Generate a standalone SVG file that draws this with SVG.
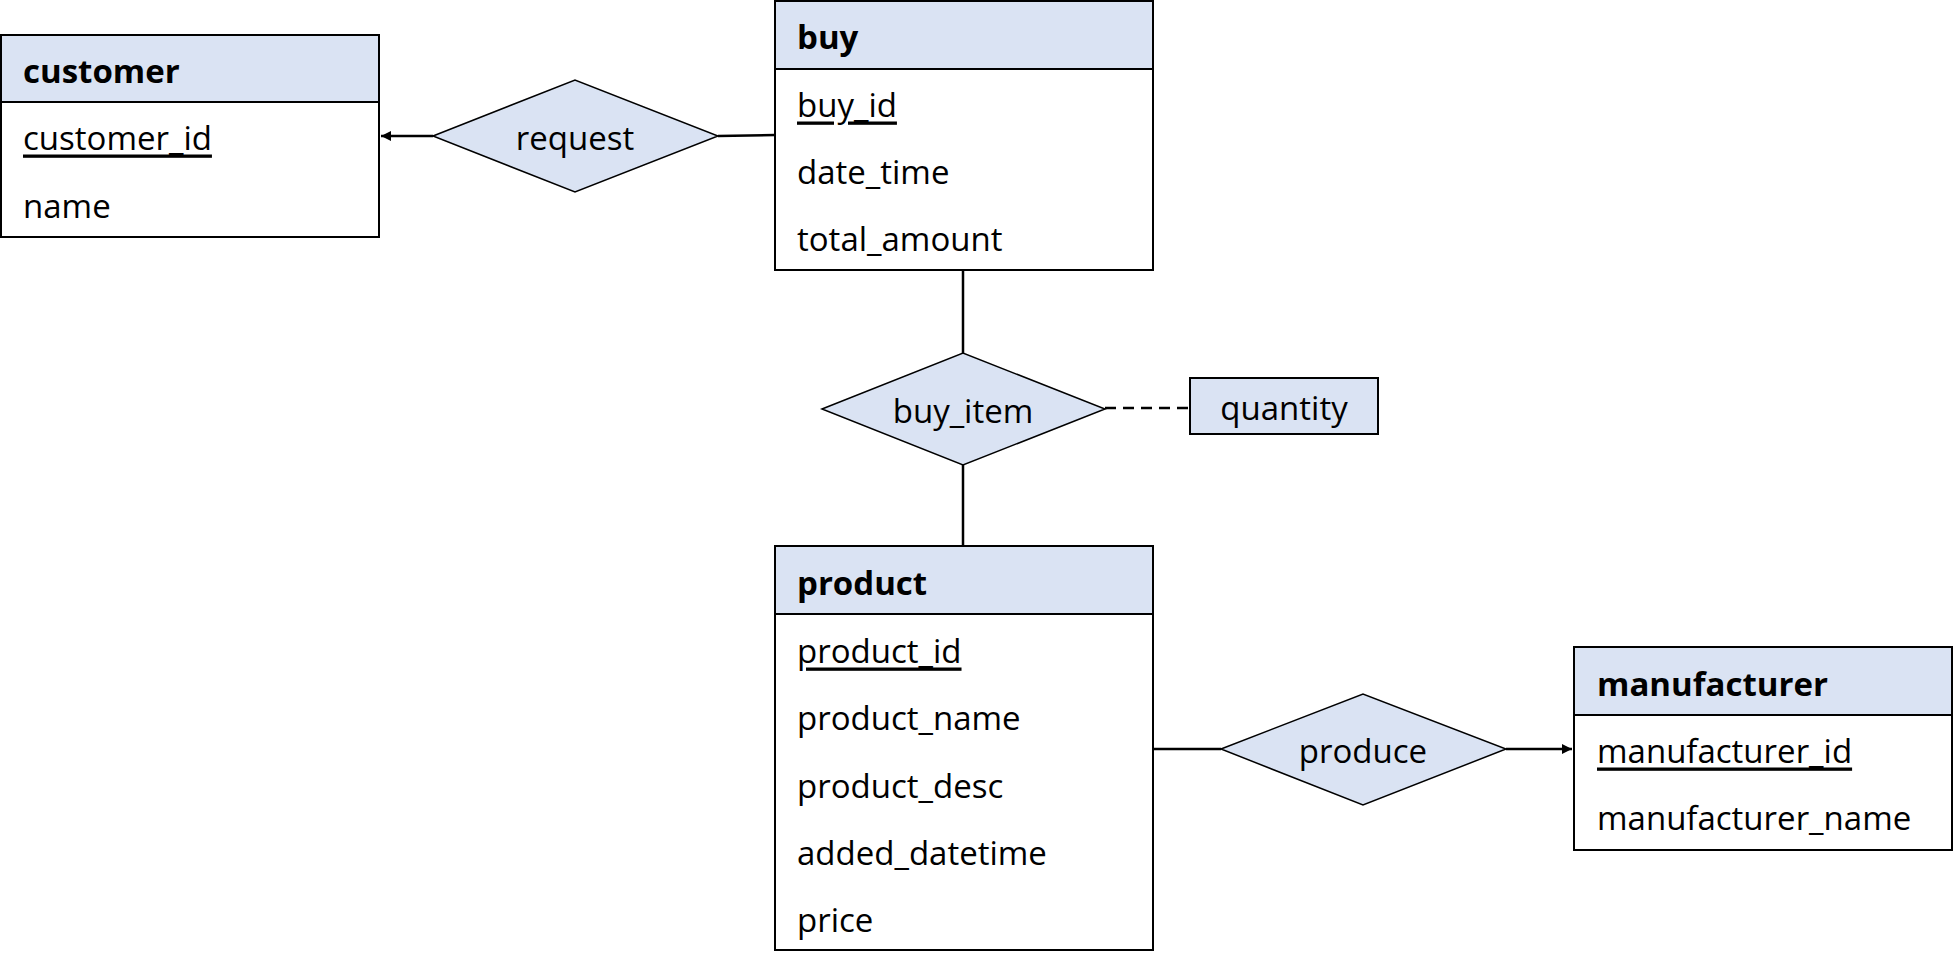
<svg xmlns="http://www.w3.org/2000/svg" width="1956" height="961" viewBox="0 0 1956 961">
<style>
.box{fill:#fff;stroke:#000;stroke-width:2}
.hdr{fill:#DAE3F3;stroke:#000;stroke-width:2}
.rel{fill:#DAE3F3;stroke:#000;stroke-width:1.5}
.t{font-family:"Open Sans","Noto Sans",sans-serif;font-size:33px;fill:#000;dominant-baseline:central}
.b{font-weight:bold}
.u{text-decoration:underline}
.c{text-anchor:middle}
.ln{stroke:#000;stroke-width:2.5;fill:none}
.dash{stroke:#000;stroke-width:2.5;stroke-dasharray:11,7;fill:none}
</style>
<defs>
<marker id="arr" viewBox="0 0 10 10" refX="10" refY="5" markerWidth="4" markerHeight="4" orient="auto" markerUnits="strokeWidth">
<path d="M0,0 L10,5 L0,10 z" fill="#000"/>
</marker>
</defs>
<rect width="1956" height="961" fill="#fff"/>
<g id="connectors">
<line class="ln" x1="433" y1="136" x2="381" y2="136" marker-end="url(#arr)"/>
<line class="ln" x1="718" y1="136" x2="775" y2="135"/>
<line class="ln" x1="963" y1="270" x2="963" y2="353"/>
<line class="ln" x1="963" y1="465" x2="963" y2="546"/>
<line class="dash" x1="1105" y1="408" x2="1190" y2="408"/>
<line class="ln" x1="1153" y1="749" x2="1221" y2="749"/>
<line class="ln" x1="1506" y1="749" x2="1572" y2="749" marker-end="url(#arr)"/>
</g>
<g id="customer">
<rect class="box" x="1" y="35" width="378" height="202"/>
<rect class="hdr" x="1" y="35" width="378" height="67"/>
<text class="t b" x="23" y="70">customer</text>
<text class="t u" x="23" y="137">customer_id</text>
<text class="t" x="23" y="205">name</text>
</g>
<g id="buy">
<rect class="box" x="775" y="1" width="378" height="269"/>
<rect class="hdr" x="775" y="1" width="378" height="68"/>
<text class="t b" x="797" y="36">buy</text>
<text class="t u" x="797" y="104">buy_id</text>
<text class="t" x="797" y="171">date_time</text>
<text class="t" x="797" y="238">total_amount</text>
</g>
<g id="request">
<polygon class="rel" points="433,136 575,80 718,136 575,192"/>
<text class="t c" x="575" y="137">request</text>
</g>
<g id="buy_item">
<polygon class="rel" points="822,409 963,353 1105,409 963,465"/>
<text class="t c" x="963" y="410">buy_item</text>
</g>
<g id="quantity">
<rect class="hdr" x="1190" y="378" width="188" height="56"/>
<text class="t c" x="1284" y="407">quantity</text>
</g>
<g id="product">
<rect class="box" x="775" y="546" width="378" height="404"/>
<rect class="hdr" x="775" y="546" width="378" height="68"/>
<text class="t b" x="797" y="582">product</text>
<text class="t u" x="797" y="650">product_id</text>
<text class="t" x="797" y="717">product_name</text>
<text class="t" x="797" y="785">product_desc</text>
<text class="t" x="797" y="852">added_datetime</text>
<text class="t" x="797" y="919">price</text>
</g>
<g id="produce">
<polygon class="rel" points="1221,749 1363,694 1506,749 1363,805"/>
<text class="t c" x="1363" y="750">produce</text>
</g>
<g id="manufacturer">
<rect class="box" x="1574" y="647" width="378" height="203"/>
<rect class="hdr" x="1574" y="647" width="378" height="68"/>
<text class="t b" x="1597" y="683">manufacturer</text>
<text class="t u" x="1597" y="750">manufacturer_id</text>
<text class="t" x="1597" y="817">manufacturer_name</text>
</g>
</svg>
